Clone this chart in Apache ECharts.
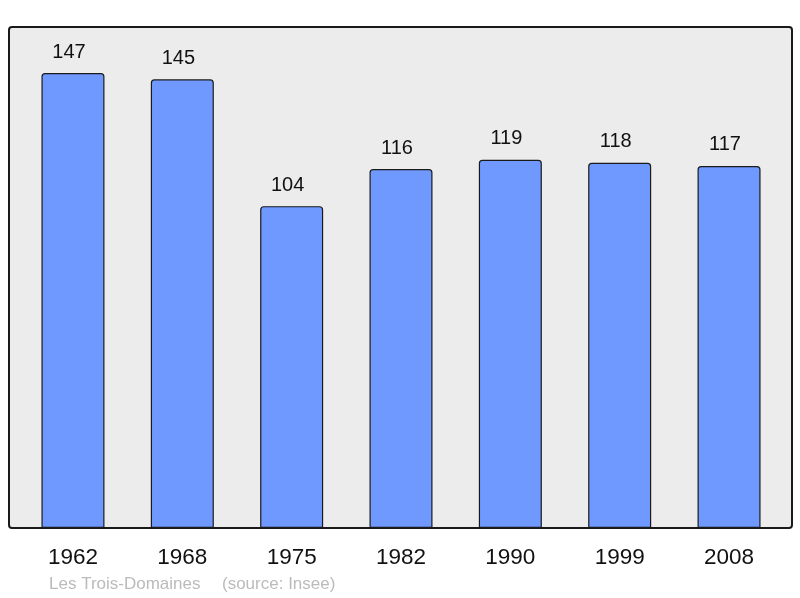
<!DOCTYPE html>
<html><head><meta charset="utf-8">
<script src="https://cdn.jsdelivr.net/npm/echarts@6/dist/echarts.min.js"></script>
<style>html,body{margin:0;padding:0;background:#fff}#c{width:800px;height:598px}</style>
</head><body><div id="c"></div>
<script>
var years = ['1962','1968','1975','1982','1990','1999','2008'];
var population = [147,145,104,116,119,118,117];
var footerName = 'Les Trois-Domaines';
var footerSource = '(source: Insee)';

var chart = echarts.init(document.getElementById('c'), null, {renderer:'canvas'});
chart.setOption({
  animation:false,
  backgroundColor:'#ffffff',
  graphic:[
    {type:'rect', z:-10, shape:{x:9,y:27,width:783,height:501,r:3}, style:{fill:'#ececec',stroke:'#1a1a1a',lineWidth:2}},
    {type:'text', left:49, top:576, style:{text:footerName, fill:'#bbbbbb', font:'17px "Liberation Sans", Arial, sans-serif'}},
    {type:'text', left:222, top:576, style:{text:footerSource, fill:'#bbbbbb', font:'17px "Liberation Sans", Arial, sans-serif'}}
  ],
  grid:{left:18.3, width:765.4, top:27, bottom:70},
  xAxis:{type:'category', data:years,
    axisLine:{show:false}, axisTick:{show:false},
    axisLabel:{color:'#111', fontSize:22.5, fontFamily:'"Liberation Sans", Arial, sans-serif', margin:18}},
  yAxis:{type:'value', min:0, max:161.9, show:false, splitLine:{show:false}},
  series:[{type:'bar', data:population, barWidth:63,
    itemStyle:{color:'#7099ff', borderColor:'#1a1a1a', borderWidth:1.2, borderRadius:[3,3,0,0]},
    label:{show:true, position:'top', distance:11, offset:[-4,0], color:'#111', fontSize:20, fontFamily:'"Liberation Sans", Arial, sans-serif'}
  }]
});
</script></body></html>
